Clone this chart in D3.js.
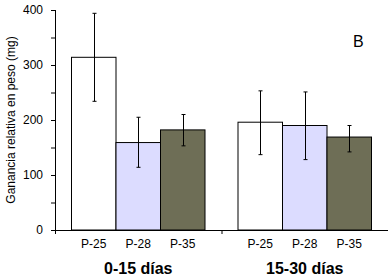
<!DOCTYPE html>
<html>
<head>
<meta charset="utf-8">
<script src="https://cdn.jsdelivr.net/npm/d3@7"></script>
<style>
  body { margin: 0; background: #fff; }
  svg text { font-family: Arial, "Liberation Sans", sans-serif; fill: #000; }
</style>
</head>
<body>
<svg id="chart" width="391" height="279"></svg>
<script>
// data
var periods = ['0-15 días', '15-30 días'];
var groups = ['P-25', 'P-28', 'P-35'];
var means = [[314, 159, 182], [196, 190, 169]];
var errLow = [[234, 114, 153], [137, 128, 142]];
var errHigh = [[394, 205, 210], [253, 251, 190]];
var yTicks = [0, 100, 200, 300, 400];
var yMinor = [50, 150, 250, 350];
var colors = ['#ffffff', '#dcdcff', '#6e6e56'];

var svg = d3.select('#chart');
var plotLeft = 55, plotRight = 388, plotTop = 10, plotBottom = 230;

var x = d3.scaleBand().domain(periods).range([plotLeft, plotRight]);
var pad = 16.5;
var xg = d3.scaleBand().domain(groups).range([pad, x.bandwidth() - pad]);
var y = d3.scaleLinear().domain([0, 400]).range([plotBottom, plotTop]);

var rows = [];
periods.forEach(function(p, i){
  groups.forEach(function(g, j){
    rows.push({period: p, key: g, value: means[i][j], lo: errLow[i][j], hi: errHigh[i][j], c: colors[j]});
  });
});

// bars
svg.append('g').selectAll('rect')
  .data(rows)
  .join('rect')
    .attr('x', d => x(d.period) + xg(d.key))
    .attr('y', d => y(d.value))
    .attr('width', xg.bandwidth())
    .attr('height', d => plotBottom - y(d.value))
    .attr('fill', d => d.c)
    .attr('stroke', '#000')
    .attr('stroke-width', 1);

// error bars
var eb = svg.append('g').attr('stroke', '#000').attr('stroke-width', 1);
rows.forEach(function(d){
  var cx = Math.round(x(d.period) + xg(d.key) + xg.bandwidth() / 2) + 0.5;
  eb.append('line').attr('x1', cx).attr('x2', cx).attr('y1', y(d.hi)).attr('y2', y(d.lo));
  eb.append('line').attr('x1', cx - 2).attr('x2', cx + 2).attr('y1', y(d.hi)).attr('y2', y(d.hi));
  eb.append('line').attr('x1', cx - 2).attr('x2', cx + 2).attr('y1', y(d.lo)).attr('y2', y(d.lo));
});

// y axis
var yAxis = svg.append('g').attr('transform', 'translate(' + plotLeft + ',0)')
  .call(d3.axisLeft(y).tickValues(yTicks).tickSize(4).tickPadding(8));
yAxis.select('.domain').attr('d', 'M0.5,' + plotTop + 'V' + (plotBottom + 4));
yAxis.selectAll('text').style('font-size', '12px').attr('font-family', null);
svg.append('g').attr('transform', 'translate(' + plotLeft + ',0)')
  .call(d3.axisLeft(y).tickValues(yMinor).tickSize(4).tickFormat(''))
  .select('.domain').remove();

// x axis
var xAxis = svg.append('g');
xAxis.append('line').attr('x1', plotLeft - 4).attr('x2', plotRight).attr('y1', plotBottom + 0.5).attr('y2', plotBottom + 0.5).attr('stroke', '#000');
xAxis.append('line').attr('x1', x(periods[1]) + 0.5).attr('x2', x(periods[1]) + 0.5)
  .attr('y1', plotBottom).attr('y2', plotBottom + 4).attr('stroke', '#000');

// category labels
svg.append('g').selectAll('text')
  .data(rows)
  .join('text')
    .attr('x', d => x(d.period) + xg(d.key) + xg.bandwidth() / 2)
    .attr('y', 248)
    .attr('text-anchor', 'middle')
    .style('font-size', '12px')
    .text(d => d.key);

svg.append('g').selectAll('text')
  .data(periods)
  .join('text')
    .attr('x', d => x(d) + x.bandwidth() / 2)
    .attr('y', 274)
    .attr('text-anchor', 'middle')
    .style('font-size', '16px')
    .style('font-weight', 'bold')
    .text(d => d);

// y title
svg.append('text')
  .attr('transform', 'translate(15,' + (plotTop + plotBottom) / 2 + ') rotate(-90)')
  .attr('text-anchor', 'middle')
  .style('font-size', '12px')
  .text('Ganancia relativa en peso (mg)');

// panel letter
svg.append('text')
  .attr('x', 353).attr('y', 47)
  .style('font-size', '16px')
  .text('B');
</script>
</body>
</html>
